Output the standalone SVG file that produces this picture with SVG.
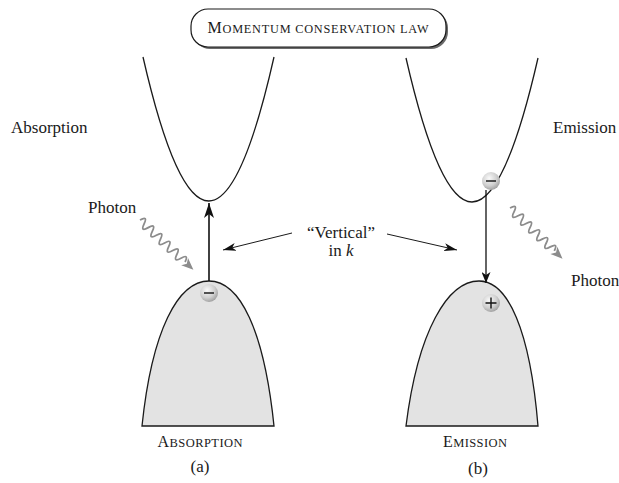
<svg xmlns="http://www.w3.org/2000/svg" width="619" height="483" viewBox="0 0 619 483">
<style>
text{font-family:"Liberation Serif","Times New Roman",serif;fill:#1a1a1a}
.lbl{font-size:17px}
.band{fill:none;stroke:#1a1a1a;stroke-width:1.3}
.val{fill:#e3e3e3;stroke:#1a1a1a;stroke-width:1.3}
.ptr{stroke:#1a1a1a;stroke-width:1;fill:none}
.wave{stroke:#8c8c8c;stroke-width:1.8;fill:none}
.sign{stroke:#111;stroke-width:1.4;fill:none}
</style>
<defs>
<radialGradient id="ball" cx="0.4" cy="0.35" r="0.7">
<stop offset="0" stop-color="#fafafa"/>
<stop offset="0.6" stop-color="#cfcfcf"/>
<stop offset="1" stop-color="#9a9a9a"/>
</radialGradient>
<marker id="bigHead" markerUnits="userSpaceOnUse" markerWidth="16" markerHeight="10" refX="15" refY="5" orient="auto">
<path d="M0,0 L15,5 L0,10 L4,5 z" fill="#111"/>
</marker>
<marker id="midHead" markerUnits="userSpaceOnUse" markerWidth="12" markerHeight="9" refX="11" refY="4.5" orient="auto">
<path d="M0,0 L11,4.5 L0,9 L3,4.5 z" fill="#111"/>
</marker>
<marker id="ptrHead" markerUnits="userSpaceOnUse" markerWidth="14" markerHeight="8" refX="13" refY="4" orient="auto">
<path d="M0,0 L13,4 L0,8 L3.5,4 z" fill="#111"/>
</marker>
<path id="wavePath" d="M0,0 q2.8,-9 5.6,0 t5.6,0 t5.6,0 t5.6,0 t5.6,0 t5.6,0 t5.6,0 t5.6,0 t5.6,0 t5.6,0 t5.6,0"/>
</defs>

<g id="title">
<rect x="193" y="11" width="255" height="38" rx="17" fill="#6a6a6a"/>
<rect x="191" y="9" width="255" height="38" rx="17" fill="#fff" stroke="#1a1a1a" stroke-width="1.2"/>
<text x="318" y="33" text-anchor="middle" textLength="221"><tspan font-size="16">M</tspan><tspan font-size="12.3">OMENTUM CONSERVATION LAW</tspan></text>
</g>

<g id="left-conduction">
<path class="band" d="M143,57 Q209,345 274,57"/>
</g>
<g id="left-valence">
<path class="val" d="M142,426 C152,330 178,281 209,281 C240,281 264,330 274,426 Z"/>
</g>
<g id="right-conduction">
<path class="band" d="M406,58 Q472,346 538,58"/>
</g>
<g id="right-valence">
<path class="val" d="M406,426 C418,330 448,281 479,281 C508,281 530,330 538,426 Z"/>
</g>

<g id="connectors">
<line x1="209" y1="281" x2="209" y2="203" stroke="#111" stroke-width="1.6" marker-end="url(#bigHead)"/>
<line x1="486" y1="190" x2="486" y2="283" stroke="#111" stroke-width="1.3" marker-end="url(#midHead)"/>
<line class="ptr" x1="292" y1="233" x2="223" y2="250" marker-end="url(#ptrHead)"/>
<line class="ptr" x1="387" y1="234" x2="457" y2="250" marker-end="url(#ptrHead)"/>
</g>

<g id="photon-left" transform="translate(140,220) rotate(43)">
<use href="#wavePath" class="wave"/>
<path d="M61,-5 L73,0 L61,5 L64,0 z" fill="#8c8c8c"/>
</g>
<g id="photon-right" transform="translate(510,208) rotate(44)">
<use href="#wavePath" class="wave"/>
<path d="M61,-5 L73,0 L61,5 L64,0 z" fill="#8c8c8c"/>
</g>

<g id="electron-left">
<circle cx="209" cy="293" r="9" fill="url(#ball)"/>
<line class="sign" x1="204" y1="293" x2="214" y2="293"/>
</g>
<g id="electron-right">
<circle cx="491" cy="181" r="9" fill="url(#ball)"/>
<line class="sign" x1="486" y1="181" x2="496" y2="181"/>
</g>
<g id="hole-right">
<circle cx="491" cy="303" r="9" fill="url(#ball)"/>
<path class="sign" d="M485.5,303 H496.5 M491,297.5 V308.5"/>
</g>

<g id="labels">
<text class="lbl" x="11" y="133">Absorption</text>
<text class="lbl" x="553" y="133">Emission</text>
<text class="lbl" x="88" y="213">Photon</text>
<text class="lbl" x="571" y="286">Photon</text>
<text class="lbl" x="341" y="238" text-anchor="middle">“Vertical”</text>
<text class="lbl" x="341" y="256" text-anchor="middle">in <tspan font-style="italic">k</tspan></text>
<text x="200" y="447" text-anchor="middle" textLength="85"><tspan font-size="16">A</tspan><tspan font-size="12.5">BSORPTION</tspan></text>
<text x="475" y="447" text-anchor="middle" textLength="64"><tspan font-size="16">E</tspan><tspan font-size="12.5">MISSION</tspan></text>
<text class="lbl" x="200" y="472" text-anchor="middle">(a)</text>
<text class="lbl" x="478" y="474" text-anchor="middle">(b)</text>
</g>
</svg>
